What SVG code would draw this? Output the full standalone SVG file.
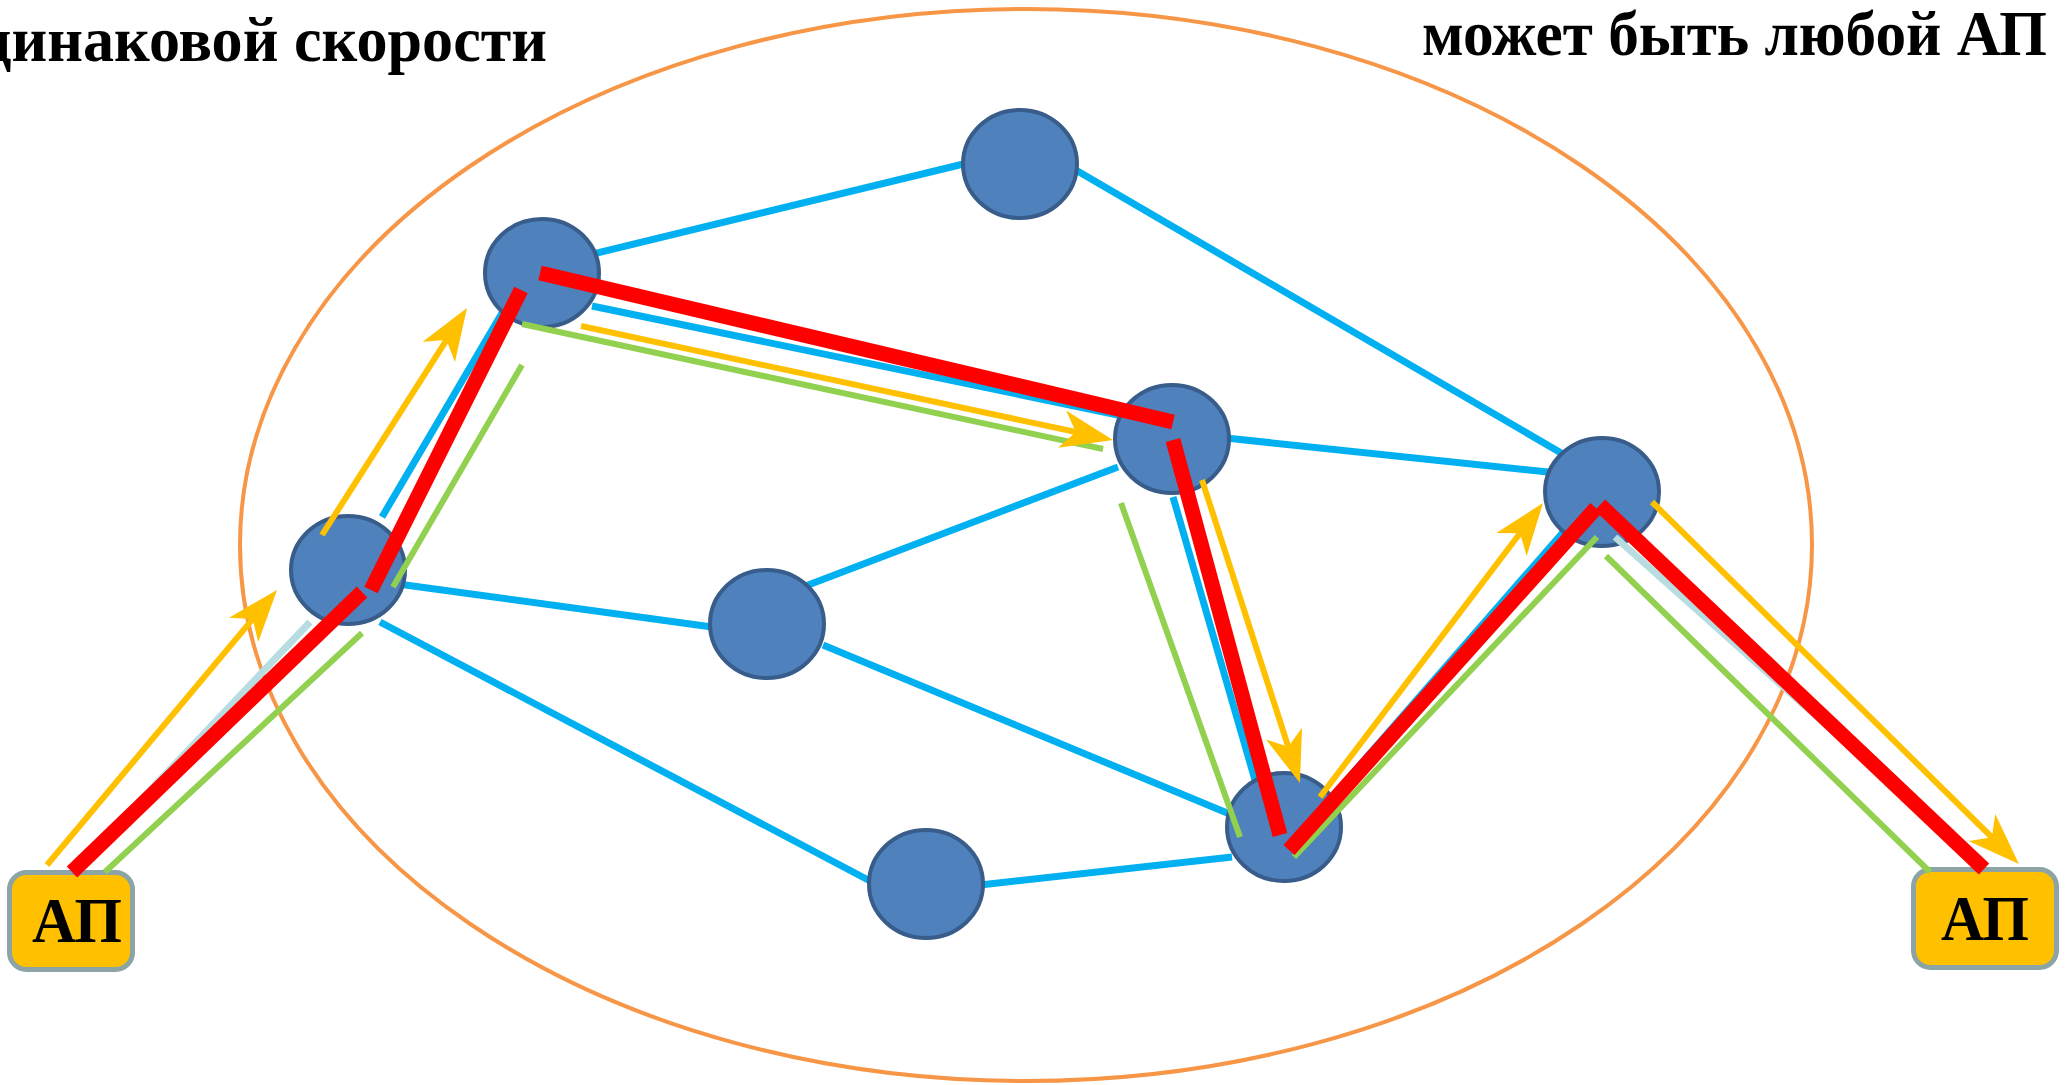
<svg xmlns="http://www.w3.org/2000/svg" width="2067" height="1085" viewBox="0 0 2067 1085">
  <style>
    .title { font-family: "Liberation Serif", "Times New Roman", serif; font-weight: bold; font-size: 63px; fill: #000; }
    .zone { fill: none; stroke: #f79646; stroke-width: 4; }
    .node { fill: #4f81bd; stroke: #385d8a; stroke-width: 4; }
    .ap rect { fill: #ffc000; stroke: #8ca4a6; stroke-width: 5; }
    .ap text { font-family: "Liberation Serif", "Times New Roman", serif; font-weight: bold; font-size: 64px; fill: #000; text-anchor: middle; }
    .link { stroke: #00b0f0; stroke-width: 7; fill: none; }
    .uplink { stroke: #b7dde1; stroke-width: 7; fill: none; }
    .fwd { stroke: #ffc000; stroke-width: 6; fill: none; marker-end: url(#stealth); }
    .back { stroke: #92d050; stroke-width: 6; fill: none; }
    .route { stroke: #ff0000; stroke-width: 15; fill: none; }
  </style>
  <defs>
    <marker id="stealth" markerUnits="userSpaceOnUse" viewBox="0 0 52 38" markerWidth="52" markerHeight="38" refX="32" refY="19" orient="auto">
      <path d="M0,0 L52,19 L0,38 L14,19 Z" fill="#ffc000"/>
    </marker>
  </defs>

  <rect width="2067" height="1085" fill="#ffffff"/>

  <!-- captions -->
  <text class="title" x="-20" y="61" textLength="567" lengthAdjust="spacingAndGlyphs">динаковой скорости</text>
  <text class="title" x="1422" y="55" textLength="625" lengthAdjust="spacingAndGlyphs">может быть любой АП</text>

  <!-- network boundary -->
  <ellipse class="zone" cx="1026" cy="545" rx="786" ry="536"/>

  <!-- network links -->
  <g id="links">
    <line class="link" x1="560" y1="262" x2="980" y2="160"/>
    <line class="link" x1="1062" y1="162" x2="1568" y2="457"/>
    <line class="link" x1="592" y1="306" x2="1118" y2="415"/>
    <line class="link" x1="382" y1="517" x2="505" y2="308"/>
    <line class="link" x1="398" y1="584" x2="712" y2="627"/>
    <line class="link" x1="380" y1="622" x2="872" y2="882"/>
    <line class="link" x1="803" y1="587" x2="1118" y2="467"/>
    <line class="link" x1="823" y1="645" x2="1232" y2="815"/>
    <line class="link" x1="980" y1="885" x2="1232" y2="857"/>
    <line class="link" x1="1226" y1="438" x2="1548" y2="472"/>
    <line class="link" x1="1173" y1="497" x2="1255" y2="780"/>
    <line class="link" x1="1325" y1="805" x2="1565" y2="530"/>
  </g>

  <!-- switching nodes -->
  <g id="n1"><ellipse class="node" cx="1020" cy="164" rx="57" ry="54"/></g>
  <g id="n2"><ellipse class="node" cx="542" cy="273" rx="57" ry="54"/></g>
  <g id="n3"><ellipse class="node" cx="348" cy="570" rx="57" ry="54"/></g>
  <g id="n4"><ellipse class="node" cx="1172" cy="439" rx="57" ry="54"/></g>
  <g id="n5"><ellipse class="node" cx="1602" cy="492" rx="57" ry="54"/></g>
  <g id="n6"><ellipse class="node" cx="767" cy="624" rx="57" ry="54"/></g>
  <g id="n7"><ellipse class="node" cx="1284" cy="827" rx="57" ry="54"/></g>
  <g id="n8"><ellipse class="node" cx="926" cy="884" rx="57" ry="54"/></g>

  <!-- subscriber points -->
  <g id="ap-left" class="ap">
    <rect x="9.5" y="872.5" width="123" height="97" rx="17"/>
    <text x="77" y="942" textLength="90" lengthAdjust="spacingAndGlyphs">АП</text>
  </g>
  <g id="ap-right" class="ap">
    <rect x="1913.5" y="869.5" width="143" height="98" rx="17"/>
    <text x="1985" y="940" textLength="88" lengthAdjust="spacingAndGlyphs">АП</text>
  </g>

  <!-- access links and the routed paths -->
  <g id="connectors">
    <line class="uplink" x1="120" y1="822" x2="310" y2="622"/>
    <line class="uplink" x1="1615" y1="537" x2="1880" y2="773"/>

    <line class="back" x1="105" y1="872" x2="362" y2="633"/>
    <line class="back" x1="393" y1="587" x2="522" y2="365"/>
    <line class="back" x1="522" y1="324" x2="1103" y2="449"/>
    <line class="back" x1="1121" y1="503" x2="1240" y2="837"/>
    <line class="back" x1="1294" y1="857" x2="1597" y2="537"/>
    <line class="back" x1="1606" y1="556" x2="1930" y2="872"/>

    <line class="fwd" x1="47" y1="865" x2="264.2" y2="605.3"/>
    <line class="fwd" x1="322" y1="535" x2="456.2" y2="324.9"/>
    <line class="fwd" x1="581" y1="326" x2="1093.4" y2="435.8"/>
    <line class="fwd" x1="1202" y1="480" x2="1293.8" y2="764"/>
    <line class="fwd" x1="1320" y1="797" x2="1530.9" y2="518.9"/>
    <line class="fwd" x1="1652" y1="502" x2="2004.7" y2="850"/>

    <line class="route" x1="72" y1="872" x2="362" y2="592"/>
    <line class="route" x1="371" y1="590" x2="521" y2="290"/>
    <line class="route" x1="540" y1="273" x2="1173" y2="422"/>
    <line class="route" x1="1173" y1="440" x2="1280" y2="835"/>
    <line class="route" x1="1289" y1="850" x2="1596" y2="508"/>
    <line class="route" x1="1600" y1="505" x2="1984" y2="869"/>
  </g>
</svg>
